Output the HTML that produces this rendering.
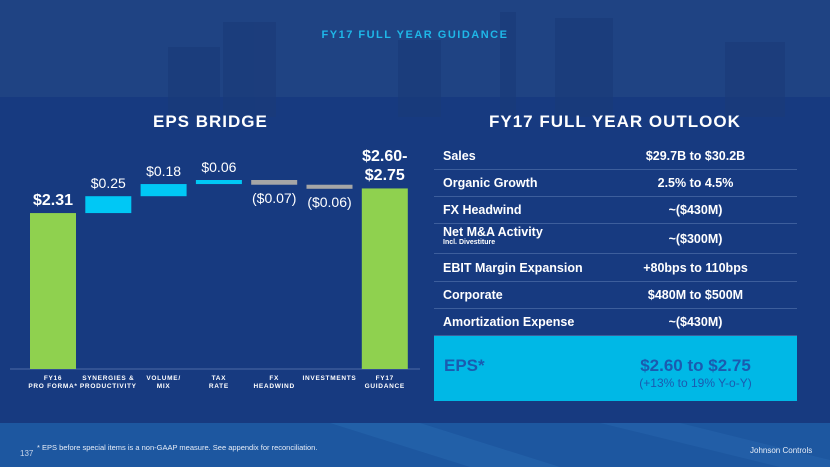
<!DOCTYPE html>
<html><head><meta charset="utf-8"><style>
body{margin:0;width:830px;height:467px;overflow:hidden;font-family:"Liberation Sans",sans-serif;}
#root{position:relative;width:830px;height:467px;background:#173a80;overflow:hidden}
.t{position:absolute;color:#fff;white-space:nowrap}
.row{position:absolute;left:434px;width:363px;height:27px;border-bottom:1px solid #3d5e9c;color:#fff;font-weight:bold;font-size:12.5px}
.row .k{position:absolute;left:9px;top:7px}
.row .v{position:absolute;left:160px;width:203px;text-align:center;top:7px}
.lab{position:absolute;color:#fff;font-size:6.5px;font-weight:bold;letter-spacing:0.7px;text-align:center;width:70px;line-height:8px}
</style></head><body>
<div id="root">
<div style="position:absolute;left:0;top:0;width:830px;height:97px;background:#1f4383"></div>
<svg style="position:absolute;left:0;top:0" width="830" height="467">
<g fill="#1a3a78" opacity="0.6">
<rect x="168" y="47" width="52" height="70"/><rect x="223" y="22" width="53" height="95"/>
<rect x="398" y="40" width="43" height="77"/><rect x="500" y="12" width="16" height="105"/>
<rect x="555" y="18" width="58" height="99"/><rect x="725" y="42" width="60" height="75"/>
</g>
<rect x="0" y="423" width="830" height="44" fill="#1d57a0"/>
<polygon points="330,423 420,423 560,467 470,467" fill="#2766ad" opacity="0.6"/>
<polygon points="600,423 680,423 830,460 830,467 780,467" fill="#2766ad" opacity="0.5"/>
</svg>
<div class="t" style="left:0;width:830px;text-align:center;top:29px;font-size:11px;font-weight:bold;letter-spacing:1.5px;color:#1fb7e8">FY17 FULL YEAR GUIDANCE</div>
<div class="t" style="left:153px;top:112px;font-size:17px;font-weight:bold;letter-spacing:1px">EPS BRIDGE</div>
<div class="t" style="left:489px;top:112px;font-size:17px;font-weight:bold;letter-spacing:1px">FY17 FULL YEAR OUTLOOK</div>
<svg id="chart" style="position:absolute;left:0;top:0" width="420" height="400"></svg>
<div id="labels"></div>
<div id="table"></div>
<div style="position:absolute;left:434px;top:336px;width:363px;height:65px;background:#00b8e6">
<div class="t" style="left:10px;top:20px;font-size:17px;font-weight:bold;color:#1a5bb0">EPS*</div>
<div class="t" style="left:160px;width:203px;text-align:center;top:20px;font-size:17px;font-weight:bold;color:#1a5bb0">$2.60 to $2.75</div>
<div class="t" style="left:160px;width:203px;text-align:center;top:40px;font-size:12px;color:#1a5bb0">(+13% to 19% Y-o-Y)</div>
</div>
<div class="t" style="left:20px;top:449px;font-size:8px;color:#c9d6ea">137</div>
<div class="t" style="left:37px;top:443px;font-size:7.5px;color:#e8eef8">* EPS before special items is a non-GAAP measure.  See appendix for reconciliation.</div>
<div class="t" style="left:750px;top:446px;font-size:8px;color:#e8eef8">Johnson Controls</div>
</div>
<script>
const categories=["FY16\nPRO FORMA*","SYNERGIES &\nPRODUCTIVITY","VOLUME/\nMIX","TAX\nRATE","FX\nHEADWIND","INVESTMENTS","FY17\nGUIDANCE"];
const deltas=[2.31,0.25,0.18,0.06,-0.07,-0.06,2.675];
const kinds=["total","up","up","up","down","down","total"];
const valueLabels=["$2.31","$0.25","$0.18","$0.06","($0.07)","($0.06)","$2.60-\n$2.75"];
const outlookKeys=["Sales","Organic Growth","FX Headwind","Net M&A Activity","EBIT Margin Expansion","Corporate","Amortization Expense"];
const outlookVals=["$29.7B to $30.2B","2.5% to 4.5%","~($430M)","~($300M)","+80bps to 110bps","$480M to $500M","~($430M)"];
const NS="http://www.w3.org/2000/svg";
const svg=document.getElementById('chart');
const base=369,k=67.5,x0=30,step=55.3,bw=46;
const y=v=>base-v*k;
const xc=i=>x0+i*step;
const ax=document.createElementNS(NS,'line');
ax.setAttribute('x1',10);ax.setAttribute('x2',420);ax.setAttribute('y1',base);ax.setAttribute('y2',base);
ax.setAttribute('stroke','#4d6aa6');ax.setAttribute('stroke-width','1');


svg.appendChild(ax);
let run=0;
const L=document.getElementById('labels');
deltas.forEach((d,i)=>{
  let lo,hi,col;
  if(kinds[i]==="total"){lo=0;hi=d;run=d;col="#8fd14f";}
  else{const s=run;run+=d;lo=Math.min(s,run);hi=Math.max(s,run);col=d>0?"#00c8f5":"#a6a6a6";}
  const r=document.createElementNS(NS,'rect');
  r.setAttribute('x',xc(i));r.setAttribute('width',bw);
  r.setAttribute('y',y(hi));r.setAttribute('height',Math.max(3,y(lo)-y(hi)));
  r.setAttribute('fill',col);
  
  
  svg.appendChild(r);
  const t=document.createElement('div');
  t.className='t';
  
  
  const isTot=kinds[i]==="total";
  t.style.cssText='width:80px;text-align:center;line-height:19px;font-size:'+(isTot?'16px':'14px')+';font-weight:'+(isTot?'bold':'normal')+';left:'+(xc(i)+bw/2-40)+'px;';
  const lines=valueLabels[i].split('\n');
  t.innerHTML=lines.join('<br>');
  let top;
  if(d<0) top=y(lo)+4;
  else top=y(hi)-3-19*lines.length;
  t.style.top=top+'px';
  L.appendChild(t);
  const c=document.createElement('div');
  c.className='lab';
  
  
  c.style.left=(xc(i)+bw/2-35)+'px';c.style.top='375px';
  c.innerHTML=categories[i].split('\n').join('<br>');
  L.appendChild(c);
});
const T=document.getElementById('table');
const tops=[142,169,196,223,254,281,308];
outlookKeys.forEach((kk,i)=>{
  const r=document.createElement('div');
  r.className='row';
  
  
  r.style.top=tops[i]+'px';
  if(i===3){r.style.height='30px';r.innerHTML='<div class="k" style="top:2px">'+kk+'<div style="font-size:7px">Incl. Divestiture</div></div><div class="v" style="top:9px">'+outlookVals[i]+'</div>';}
  else r.innerHTML='<div class="k">'+kk+'</div><div class="v">'+outlookVals[i]+'</div>';
  T.appendChild(r);
});
</script>
</body></html>
